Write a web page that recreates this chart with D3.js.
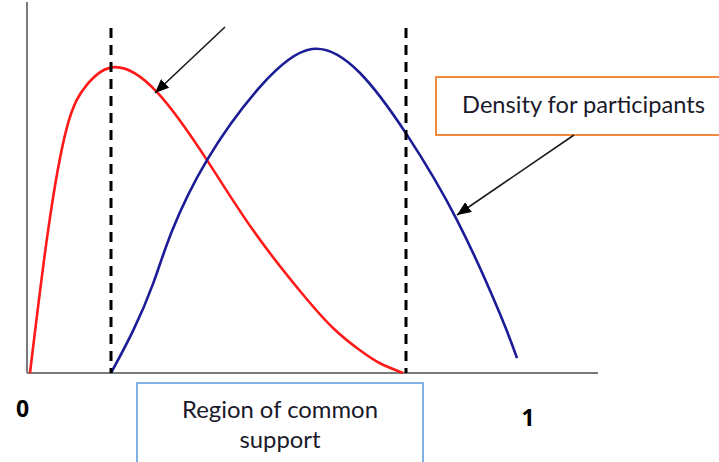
<!DOCTYPE html>
<html>
<head>
<meta charset="utf-8">
<script src="https://cdn.jsdelivr.net/npm/d3@7"></script>
<style>
  html, body { margin: 0; padding: 0; background: #fff; }
  svg { display: block; }
</style>
</head>
<body>
<svg id="chart" width="719" height="462"></svg>
<script>
// ---- data ----
const redX  = [0.006, 0.042, 0.080, 0.120, 0.176, 0.260, 0.360, 0.452, 0.546, 0.612, 0.666, 0.706, 0.752];
const redY  = [0.000, 0.438, 0.759, 0.890, 0.944, 0.867, 0.657, 0.441, 0.253, 0.139, 0.070, 0.030, 0.000];
const blueX = [0.168, 0.212, 0.252, 0.290, 0.360, 0.466, 0.570, 0.666, 0.760, 0.860, 0.946, 0.980];
const blueY = [0.000, 0.130, 0.275, 0.438, 0.657, 0.883, 1.000, 0.926, 0.735, 0.472, 0.182, 0.046];
const supportBounds = [0.168, 0.758];
const supportTop = 1.065;
const tickValues = [0, 1];
const tickLabels = ["0", "1"];
const axisExtent = { xMax: 1.142, yMax: 1.145 };
const participantsLabel = "Density for participants";
const supportLabel = ["Region of common", "support"];

// ---- scales ----
const svg = d3.select("#chart");
const x = d3.scaleLinear().domain([0, 1]).range([27, 527]);
const y = d3.scaleLinear().domain([0, 1]).range([373, 49]);

// axes (plain lines, no ticks)
const axisG = svg.append("g");
axisG.append("line")
  .attr("x1", x(0)).attr("x2", x(axisExtent.xMax))
  .attr("y1", y(0)).attr("y2", y(0))
  .attr("stroke", "#7a7a7a").attr("stroke-width", 2);
axisG.append("line")
  .attr("x1", x(0)).attr("x2", x(0))
  .attr("y1", y(0)).attr("y2", y(axisExtent.yMax))
  .attr("stroke", "#7a7a7a").attr("stroke-width", 2);

// tick labels
svg.selectAll("text.tick").data(tickValues).enter().append("text")
  .attr("class", "tick")
  .attr("x", (d, i) => x(d) + (i === 0 ? -4.5 : 1))
  .attr("y", (d, i) => i === 0 ? 417 : 426)
  .attr("text-anchor", "middle")
  .attr("font-family", "'Open Sans', Lato, sans-serif")
  .attr("font-weight", "bold")
  .attr("font-size", 23)
  .attr("fill", "#000")
  .text((d, i) => tickLabels[i]);

// curves
const line = d3.line().x(d => x(d[0])).y(d => y(d[1])).curve(d3.curveNatural);
const redData = redX.map((v, i) => [v, redY[i]]);
const blueData = blueX.map((v, i) => [v, blueY[i]]);

svg.append("path").datum(redData).attr("d", line)
  .attr("fill", "none").attr("stroke", "#ff1a1a").attr("stroke-width", 2.6);
svg.append("path").datum(blueData).attr("d", line)
  .attr("fill", "none").attr("stroke", "#1c1c96").attr("stroke-width", 2.6);

// dashed support lines
svg.selectAll("line.support").data(supportBounds).enter().append("line")
  .attr("class", "support")
  .attr("x1", d => x(d)).attr("x2", d => x(d))
  .attr("y1", y(supportTop)).attr("y2", y(0))
  .attr("stroke", "#000").attr("stroke-width", 3)
  .attr("stroke-dasharray", "10,7");

// arrow marker
const defs = svg.append("defs");
defs.append("marker")
  .attr("id", "arrowHead")
  .attr("viewBox", "0 0 14 12")
  .attr("refX", 14).attr("refY", 6)
  .attr("markerWidth", 14).attr("markerHeight", 12)
  .attr("markerUnits", "userSpaceOnUse")
  .attr("orient", "auto")
  .append("path").attr("d", "M0,0 L14,6 L0,12 Z").attr("fill", "#000");

// arrow to red curve (unlabelled)
svg.append("line")
  .attr("x1", 225).attr("y1", 27)
  .attr("x2", 155).attr("y2", 93)
  .attr("stroke", "#1a1a1a").attr("stroke-width", 1.6)
  .attr("marker-end", "url(#arrowHead)");

// participants box + arrow
svg.append("rect")
  .attr("x", 436).attr("y", 77).attr("width", 300).attr("height", 58)
  .attr("fill", "#fff").attr("stroke", "#f08a3c").attr("stroke-width", 2);
svg.append("line")
  .attr("x1", 574).attr("y1", 135)
  .attr("x2", 457).attr("y2", 215)
  .attr("stroke", "#1a1a1a").attr("stroke-width", 1.6)
  .attr("marker-end", "url(#arrowHead)");

function fitText(sel, targetWidth) {
  const w = sel.node().getComputedTextLength();
  const fs = parseFloat(sel.attr("font-size"));
  sel.attr("font-size", fs * targetWidth / w);
}

const dens = svg.append("text")
  .attr("x", 583.5).attr("y", 113)
  .attr("text-anchor", "middle")
  .attr("font-family", "Lato, 'Open Sans', sans-serif")
  .attr("font-size", 22)
  .attr("fill", "#1a1a2a")
  .text(participantsLabel);
fitText(dens, 243);

// support box
svg.append("rect")
  .attr("x", 137).attr("y", 383).attr("width", 286).attr("height", 100)
  .attr("fill", "#fff").attr("stroke", "#7fb2e0").attr("stroke-width", 2);

const sup1 = svg.append("text")
  .attr("x", 280).attr("y", 418)
  .attr("text-anchor", "middle")
  .attr("font-family", "Lato, 'Open Sans', sans-serif")
  .attr("font-size", 22)
  .attr("fill", "#1a1a2a")
  .text(supportLabel[0]);
fitText(sup1, 196);
svg.append("text")
  .attr("x", 280).attr("y", 448)
  .attr("text-anchor", "middle")
  .attr("font-family", "Lato, 'Open Sans', sans-serif")
  .attr("font-size", sup1.attr("font-size"))
  .attr("fill", "#1a1a2a")
  .text(supportLabel[1]);
</script>
</body>
</html>
